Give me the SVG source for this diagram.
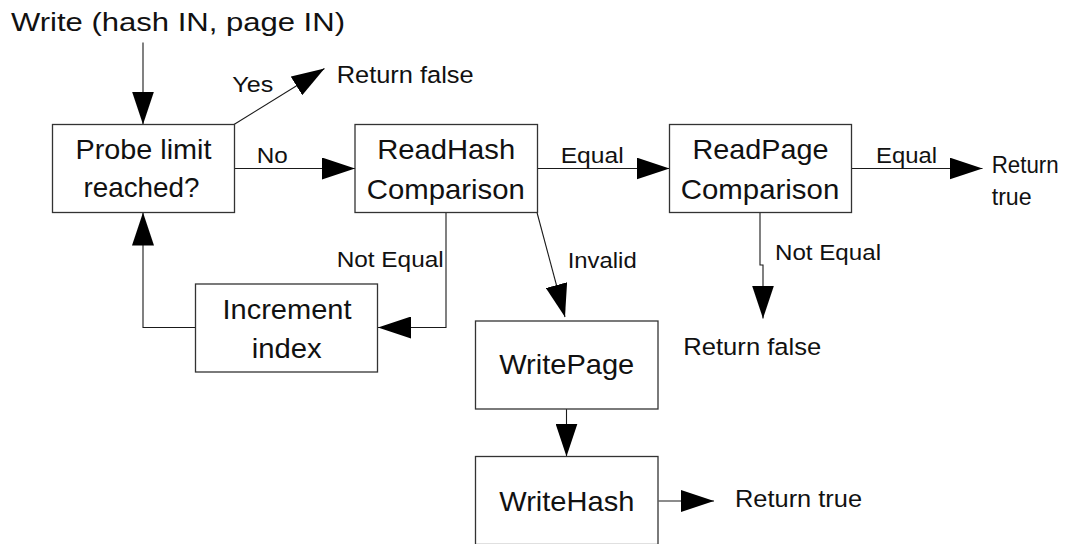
<svg xmlns="http://www.w3.org/2000/svg" width="1073" height="544" viewBox="0 0 1073 544">
  <style>
    .box { fill: #ffffff; stroke: #333333; stroke-width: 1.3; }
    .edge { fill: none; stroke: #1a1a1a; stroke-width: 1.1; marker-end: url(#head); }
    text { font-family: "Liberation Sans", Arial, Helvetica, sans-serif; fill: #111111; }
    .node { font-size: 28px; text-anchor: middle; }
    .lbl { font-size: 22.5px; }
    .out { font-size: 24.5px; }
  </style>
  <defs>
    <marker id="head" markerUnits="userSpaceOnUse" markerWidth="33" markerHeight="22" refX="33" refY="11" orient="auto" viewBox="0 0 33 22">
      <path d="M0,0 L33,11 L0,22 Z" fill="#000000"/>
    </marker>
  </defs>

  <rect width="1073" height="544" fill="#ffffff"/>

  <text x="11" y="31" font-size="26.5" textLength="334" lengthAdjust="spacingAndGlyphs">Write (hash IN, page IN)</text>

  <g id="connectors">
    <path class="edge" d="M143,42.5 V124.5"/>
    <path class="edge" d="M234,124.5 L324.5,68.5"/>
    <path class="edge" d="M234.5,168.5 H355"/>
    <path class="edge" d="M537.5,168.5 H669.5"/>
    <path class="edge" d="M851.5,168.5 H982.5"/>
    <path class="edge" d="M446,212.5 V327.5 H378"/>
    <path class="edge" d="M195.5,327.5 H143 V212.5"/>
    <path class="edge" d="M537,212.5 L565,317"/>
    <path class="edge" d="M760,212.5 V265 H763 V318.5"/>
    <path class="edge" d="M566.5,409 V456.5"/>
    <path class="edge" d="M658.5,501 H714"/>

    <text class="lbl" x="232.3" y="92.3" textLength="41" lengthAdjust="spacingAndGlyphs">Yes</text>
    <text class="out" x="336.7" y="83.3" textLength="137" lengthAdjust="spacingAndGlyphs">Return false</text>
    <text class="lbl" x="256.7" y="163.3" textLength="31" lengthAdjust="spacingAndGlyphs">No</text>
    <text class="lbl" x="560.7" y="163.3" textLength="63" lengthAdjust="spacingAndGlyphs">Equal</text>
    <text class="lbl" x="876" y="163.3" textLength="61" lengthAdjust="spacingAndGlyphs">Equal</text>
    <text class="out" x="991.7" y="173" font-size="23.5" textLength="67" lengthAdjust="spacingAndGlyphs">Return</text>
    <text class="out" x="991.7" y="205" font-size="23.5" textLength="40" lengthAdjust="spacingAndGlyphs">true</text>
    <text class="lbl" x="336.7" y="266.7" textLength="107" lengthAdjust="spacingAndGlyphs">Not Equal</text>
    <text class="lbl" x="567.7" y="268.3" textLength="69" lengthAdjust="spacingAndGlyphs">Invalid</text>
    <text class="lbl" x="775" y="260" textLength="106" lengthAdjust="spacingAndGlyphs">Not Equal</text>
    <text class="out" x="683.3" y="355" textLength="138" lengthAdjust="spacingAndGlyphs">Return false</text>
    <text class="out" x="735" y="506.7" textLength="127" lengthAdjust="spacingAndGlyphs">Return true</text>
  </g>

  <g id="probe-limit">
    <rect class="box" x="52.5" y="124.5" width="182" height="88"/>
    <text class="node" x="143.5" y="159" textLength="136" lengthAdjust="spacingAndGlyphs">Probe limit</text>
    <text class="node" x="141.5" y="197" textLength="116" lengthAdjust="spacingAndGlyphs">reached?</text>
  </g>

  <g id="readhash-comparison">
    <rect class="box" x="355" y="124.5" width="182.5" height="88"/>
    <text class="node" x="446.2" y="158.5" textLength="138" lengthAdjust="spacingAndGlyphs">ReadHash</text>
    <text class="node" x="445.8" y="198.5" textLength="158" lengthAdjust="spacingAndGlyphs">Comparison</text>
  </g>

  <g id="readpage-comparison">
    <rect class="box" x="669.5" y="124.5" width="182" height="88"/>
    <text class="node" x="760.5" y="158.5" textLength="136" lengthAdjust="spacingAndGlyphs">ReadPage</text>
    <text class="node" x="760" y="198.5" textLength="158.5" lengthAdjust="spacingAndGlyphs">Comparison</text>
  </g>

  <g id="increment-index">
    <rect class="box" x="195.5" y="284" width="182" height="88"/>
    <text class="node" x="287" y="319" textLength="129" lengthAdjust="spacingAndGlyphs">Increment</text>
    <text class="node" x="286.7" y="358.3" textLength="70" lengthAdjust="spacingAndGlyphs">index</text>
  </g>

  <g id="write-page">
    <rect class="box" x="475.5" y="321" width="182.5" height="88"/>
    <text class="node" x="566.7" y="374" textLength="135" lengthAdjust="spacingAndGlyphs">WritePage</text>
  </g>

  <g id="write-hash">
    <rect class="box" x="475.5" y="456.5" width="182.5" height="88"/>
    <text class="node" x="566.8" y="510.7" textLength="135" lengthAdjust="spacingAndGlyphs">WriteHash</text>
  </g>
</svg>
